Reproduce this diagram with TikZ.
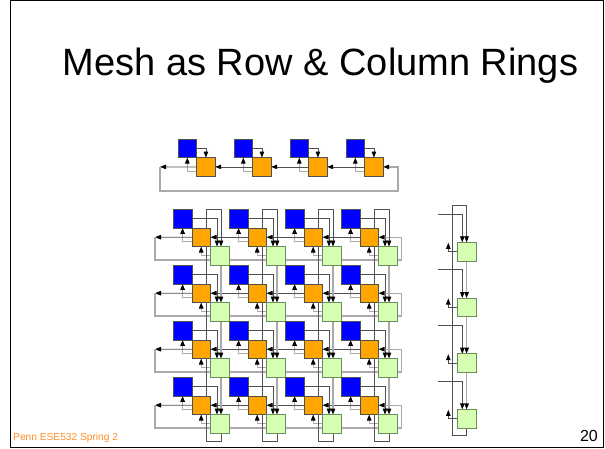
\documentclass[tikz,border=0pt]{standalone}
\usepackage{fontspec}
\setmainfont{Liberation Sans}
\usetikzlibrary{arrows.meta,backgrounds}
\definecolor{peblue}{RGB}{0,0,255}
\definecolor{roworange}{RGB}{255,165,0}
\definecolor{colgreen}{RGB}{215,255,180}
\definecolor{wiredark}{RGB}{80,80,80}
\definecolor{wirelight}{RGB}{170,170,170}
\definecolor{footorange}{RGB}{255,140,40}

\begin{document}
\begin{tikzpicture}[x=1pt,y=-1pt,
  sq/.style={line width=0.8pt, minimum size=18.6pt, inner sep=0pt, outer sep=0pt, anchor=north west},
  pe/.style={sq, draw=wiredark, fill=peblue},
  rsw/.style={sq, draw=wiredark, fill=roworange},
  csw/.style={sq, draw={rgb,255:red,110;green,140;blue,90}, fill=colgreen},
  tip/.style={-{Triangle[length=6pt,width=4.5pt,color=black]}},
  dk/.style={draw=wiredark, line width=0.8pt},
  lt/.style={draw=wirelight, line width=1.2pt},
]
\useasboundingbox (0,0) rectangle (605,448);
\draw[black, line width=1pt] (10,0.5) rectangle (603.5,447.5);

% title, footer, page number
\node[anchor=base, inner sep=0pt, font=\fontsize{38}{42}\selectfont] (title) at (320.5,75) {Mesh as Row \& Column Rings};
\node[anchor=base west, inner sep=0pt, text=footorange, font=\fontsize{10.2}{12}\selectfont] (foot) at (13,440) {Penn ESE532 Spring 2};
\node[anchor=base east, inner sep=0pt, font=\fontsize{16}{18}\selectfont] (page) at (598,441) {20};

% ---- single row ring ----
\foreach \i in {1,...,4} {
  \pgfmathsetmacro\bx{178+56*(\i-1)}
  \node[pe] (tb\i) at (\bx,139) {};
  \node[rsw] (to\i) at (\bx+18.6,157.6) {};
}
\coordinate (tl) at (160,166.9);
\coordinate (tr) at (398,191);
\begin{scope}[on background layer]
  \foreach \i in {1,...,4} {
    \draw[dk,tip] (tb\i.east) -| (to\i.north);
    \draw[lt,tip] ([yshift=-4.5pt]to\i.west) -| (tb\i.south);
  }
  \foreach \a/\b in {2/1,3/2,4/3} \draw[dk,tip] (to\a.west) -- (to\b.east);
  \draw[dk,tip] (to1.west) -- (tl);
  \draw[lt,tip] (tl) |- (tr) |- (to4.east);
\end{scope}

% ---- 4x4 mesh: PE, row switch, column switch ----
\foreach \r in {1,...,4} {
  \foreach \c in {1,...,4} {
    \pgfmathsetmacro\bx{173.3+56*(\c-1)}
    \pgfmathsetmacro\by{209.3+56*(\r-1)}
    \node[pe] (b\r\c) at (\bx,\by) {};
    \node[rsw] (o\r\c) at (\bx+18.6,\by+18.6) {};
    \node[csw] (g\r\c) at (\bx+37.2,\by+37.2) {};
  }
}
\foreach \r in {1,...,4} {
  \pgfmathsetmacro\by{209.3+56*(\r-1)}
  \coordinate (rl\r) at (155,\by+27.9);
  \coordinate (rr\r) at (401.7,\by+50.7);
}
\foreach \c in {1,...,4} {
  \pgfmathsetmacro\bx{173.3+56*(\c-1)}
  \coordinate (ctl\c) at (\bx+33.4,209.3);
  \coordinate (cbl\c) at (\bx+33.4,441.7);
}
\begin{scope}[on background layer]
  \foreach \r in {1,...,4} {
    \foreach \c in {1,...,4} {
      \draw[dk,tip] (b\r\c.east) -| ([xshift=-2.8pt]g\r\c.north);
      \draw[lt,tip] ([yshift=-4.5pt]o\r\c.west) -| (b\r\c.south);
      \draw[lt,tip] (g\r\c.west) -| (o\r\c.south);
    }
    \foreach \a/\b in {2/1,3/2,4/3} \draw[dk,tip] (o\r\a.west) -- (o\r\b.east);
    \draw[dk,tip] (o\r1.west) -- (rl\r);
    \draw[lt,tip] (rl\r) |- (rr\r) |- (o\r4.east);
  }
  \foreach \c in {1,...,4} {
    \draw[dk,tip] ([xshift=1.2pt]g4\c.south) |- (cbl\c) -- (ctl\c) -| ([xshift=1.2pt]g1\c.north);
    \foreach \a/\b in {1/2,2/3,3/4}
      \draw[lt,tip] ([xshift=1.2pt]g\a\c.south) -- ([xshift=1.2pt]g\b\c.north);
  }
\end{scope}

% ---- single column ring ----
\foreach \k in {1,...,4} {
  \pgfmathsetmacro\sy{242.3+55.7*(\k-1)}
  \node[csw] (s\k) at (457.3,\sy) {};
  \coordinate (si\k) at (438.3,\sy-28.3);
  \coordinate (so\k) at (448.3,\sy+0.5);
}
\coordinate (stl) at (452.3,205);
\coordinate (sbl) at (452.3,435);
\begin{scope}[on background layer]
  \draw[dk,tip] (s4.south) |- (sbl) -- (stl) -| (s1.north);
  \foreach \a/\b in {1/2,2/3,3/4} \draw[lt,tip] (s\a.south) -- (s\b.north);
  \foreach \k in {1,...,4} {
    \draw[dk,tip] (si\k) -| ([xshift=-4.3pt]s\k.north);
    \draw[dk,tip] (s\k.west) -| (so\k);
  }
\end{scope}
\end{tikzpicture}
\end{document}
